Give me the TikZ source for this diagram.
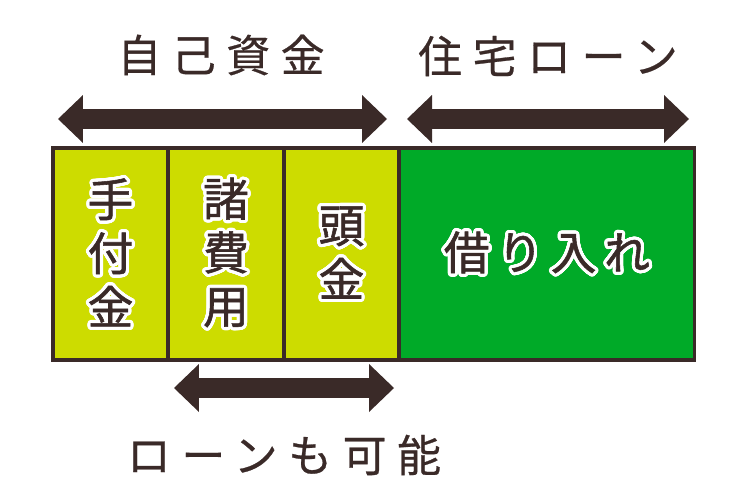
\documentclass[tikz,border=0pt]{standalone}
\usepackage{fontspec}
\usepackage{xcolor}
\usepackage{contour}
\usepackage{tikz}
\usetikzlibrary{arrows.meta,positioning}

\newfontfamily\jpbox[FakeBold=1.2, LetterSpace=17]{Noto Sans CJK JP}
\newfontfamily\jpwide[FakeBold=0.6, LetterSpace=24]{Noto Sans CJK JP}
\definecolor{darkbrown}{HTML}{3A2A28}
\definecolor{ownlime}{HTML}{CDDC00}
\definecolor{loangreen}{HTML}{00AA28}
\contourlength{1.8pt}
\contournumber{32}
\newcommand\outl[1]{\contour{white}{#1}}

\tikzset{
  part/.style={draw=darkbrown, line width=1.8pt, inner sep=0pt, outer sep=0pt,
    minimum height=4.24cm, align=center, text=darkbrown,
    font=\jpbox\fontsize{26}{30.6}\selectfont},
  span/.style={draw=darkbrown, line width=0.4cm,
    {Triangle[length=0.5cm, width=0.96cm, line width=0pt]}-{Triangle[length=0.5cm, width=0.96cm, line width=0pt]}},
  caption/.style={text=darkbrown, inner sep=0pt, font=\jpwide\fontsize{25}{30}\selectfont}
}

\begin{document}
\begin{tikzpicture}[x=0.02cm, y=-0.02cm]
  \useasboundingbox (0,0) rectangle (750,500);
  % the four parts of the price
  \node[part, fill=ownlime, minimum width=2.3cm] (tetsuke) at (110.5,254) {\outl{手}\\\outl{付}\\\outl{金}};
  \node[part, fill=ownlime, minimum width=2.32cm, right=0pt of tetsuke] (shohiyo) {\outl{諸}\\\outl{費}\\\outl{用}};
  \node[part, fill=ownlime, minimum width=2.3cm, right=0pt of shohiyo] (atama) {\outl{頭}\\\outl{金}};
  \node[part, fill=loangreen, minimum width=5.92cm, right=0pt of atama] (kariire) {\outl{借り入れ}};
  % arrows
  \coordinate (ownL) at (58,119);
  \coordinate (ownR) at (387,119);
  \coordinate (loanL) at (407,119);
  \coordinate (loanR) at (689,119);
  \coordinate (optL) at (174,388);
  \coordinate (optR) at (394,388);
  \draw[span] (ownL) -- (ownR);
  \draw[span] (loanL) -- (loanR);
  \draw[span] (optL) -- (optR);
  % captions
  \node[caption] (own) at (221,55) {自己資金};
  \node[caption] (loan) at (548,56) {住宅ローン};
  \node[caption] (opt) at (284,455) {ローンも可能};
\end{tikzpicture}
\end{document}
